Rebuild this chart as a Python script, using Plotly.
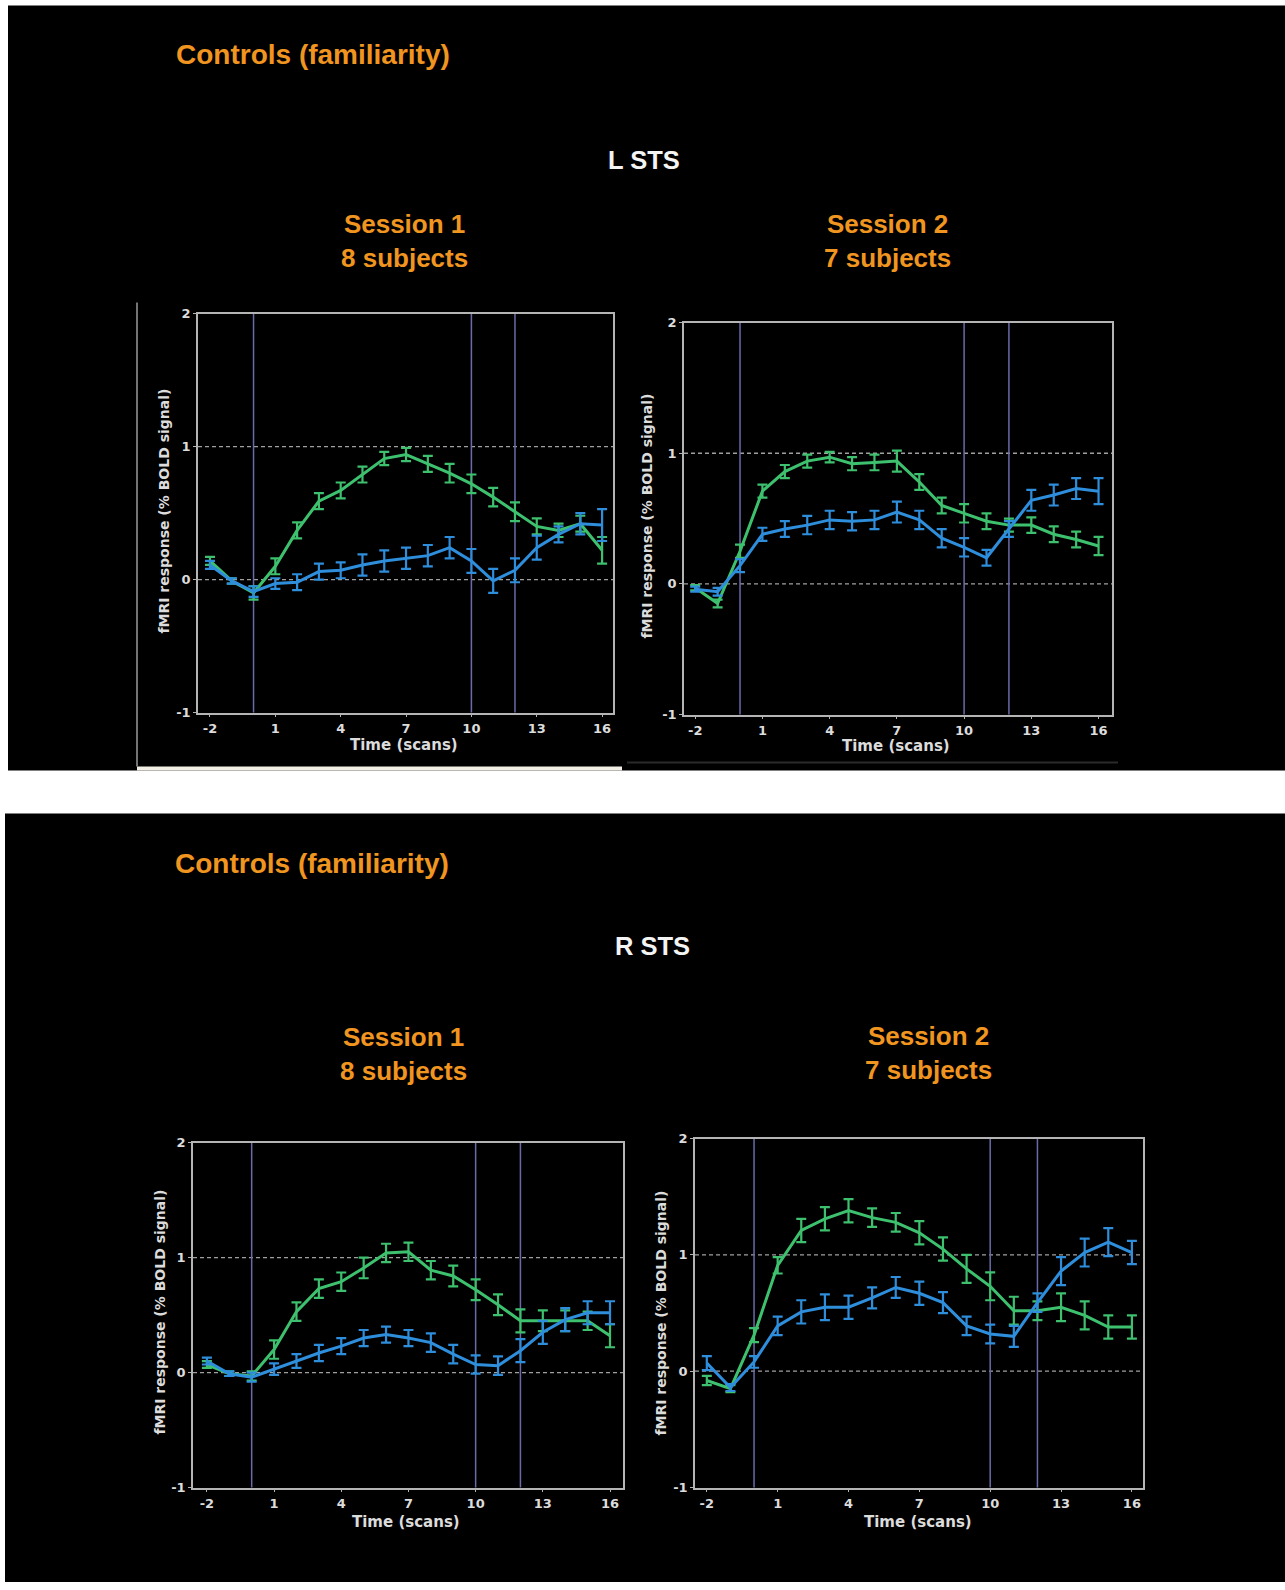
import plotly.graph_objects as go

W, H = 1285, 1590

# ---------------- data ----------------
time = list(range(-2, 17))
tick_vals = [-2, 1, 4, 7, 10, 13, 16]
tick_text = ["-2", "1", "4", "7", "10", "13", "16"]
y_ticks = [-1, 0, 1, 2]
event_lines = [0, 10, 12]

# L STS, Session 1 (8 subjects)
lsts_s1_green = [0.14, -0.01, -0.10, 0.10, 0.37, 0.59, 0.67, 0.79, 0.91, 0.94, 0.87, 0.80, 0.72, 0.62, 0.51, 0.40, 0.37, 0.42, 0.22]
lsts_s1_green_err = [0.03, 0.02, 0.05, 0.06, 0.06, 0.06, 0.06, 0.06, 0.05, 0.05, 0.06, 0.07, 0.07, 0.07, 0.07, 0.06, 0.05, 0.06, 0.10]
lsts_s1_blue = [0.11, -0.01, -0.09, -0.03, -0.02, 0.06, 0.07, 0.11, 0.14, 0.16, 0.18, 0.24, 0.14, -0.01, 0.07, 0.24, 0.34, 0.42, 0.41]
lsts_s1_blue_err = [0.03, 0.02, 0.04, 0.04, 0.06, 0.06, 0.06, 0.08, 0.08, 0.08, 0.08, 0.08, 0.09, 0.09, 0.09, 0.09, 0.06, 0.08, 0.12]

# L STS, Session 2 (7 subjects)
lsts_s2_green = [-0.03, -0.15, 0.25, 0.71, 0.86, 0.94, 0.97, 0.92, 0.93, 0.94, 0.78, 0.60, 0.54, 0.48, 0.45, 0.45, 0.38, 0.34, 0.29]
lsts_s2_green_err = [0.02, 0.03, 0.05, 0.05, 0.05, 0.05, 0.04, 0.05, 0.06, 0.08, 0.06, 0.06, 0.07, 0.06, 0.05, 0.06, 0.06, 0.06, 0.07]
lsts_s2_blue = [-0.04, -0.06, 0.14, 0.38, 0.42, 0.45, 0.49, 0.48, 0.49, 0.55, 0.49, 0.35, 0.28, 0.20, 0.42, 0.64, 0.68, 0.73, 0.71]
lsts_s2_blue_err = [0.02, 0.03, 0.05, 0.05, 0.06, 0.07, 0.07, 0.07, 0.07, 0.08, 0.07, 0.07, 0.07, 0.06, 0.06, 0.08, 0.08, 0.08, 0.10]

# R STS, Session 1 (8 subjects)
rsts_s1_green = [0.07, -0.01, -0.03, 0.20, 0.53, 0.73, 0.79, 0.91, 1.04, 1.05, 0.89, 0.84, 0.72, 0.59, 0.45, 0.45, 0.45, 0.45, 0.32]
rsts_s1_green_err = [0.03, 0.02, 0.04, 0.08, 0.08, 0.08, 0.08, 0.09, 0.08, 0.08, 0.08, 0.09, 0.09, 0.09, 0.10, 0.09, 0.09, 0.08, 0.10]
rsts_s1_blue = [0.10, -0.01, -0.04, 0.03, 0.10, 0.17, 0.23, 0.30, 0.33, 0.30, 0.26, 0.16, 0.07, 0.06, 0.19, 0.35, 0.46, 0.52, 0.52]
rsts_s1_blue_err = [0.03, 0.02, 0.04, 0.05, 0.06, 0.07, 0.07, 0.07, 0.07, 0.07, 0.08, 0.08, 0.08, 0.08, 0.10, 0.10, 0.10, 0.10, 0.10]

# R STS, Session 2 (7 subjects)
rsts_s2_green = [-0.08, -0.15, 0.31, 0.91, 1.21, 1.31, 1.38, 1.32, 1.28, 1.19, 1.05, 0.88, 0.73, 0.52, 0.52, 0.55, 0.48, 0.38, 0.38]
rsts_s2_green_err = [0.04, 0.03, 0.06, 0.07, 0.10, 0.10, 0.10, 0.08, 0.08, 0.10, 0.10, 0.12, 0.12, 0.12, 0.08, 0.12, 0.12, 0.10, 0.10]
rsts_s2_blue = [0.07, -0.14, 0.08, 0.39, 0.51, 0.55, 0.55, 0.63, 0.72, 0.67, 0.59, 0.39, 0.32, 0.30, 0.59, 0.86, 1.02, 1.11, 1.02]
rsts_s2_blue_err = [0.06, 0.03, 0.05, 0.08, 0.10, 0.11, 0.10, 0.09, 0.09, 0.10, 0.09, 0.08, 0.08, 0.09, 0.08, 0.12, 0.12, 0.12, 0.10]

session_titles = ["Session 1<br>8 subjects", "Session 2<br>7 subjects",
                  "Session 1<br>8 subjects", "Session 2<br>7 subjects"]
region_titles = ["L STS", "R STS"]
panel_title = "Controls (familiarity)"
x_title = "Time (scans)"
y_title = "fMRI response (% BOLD signal)"

# ---------------- styling / layout ----------------
GREEN = "#3EC16E"
BLUE = "#2E8EDC"
ORANGE = "#F0951F"
EVENT = "#6A6AAA"
AXIS = "#b4b4b4"
TXT = "#dcdcdc"

# the photographed page comes out slightly squeezed vertically; compensate
Y_OFF, Y_SCALE = 7.4, 0.9906


def fx(px):
    return px / W


def fy(py):
    return 1 - ((py - Y_OFF) / Y_SCALE) / H


# pixel boxes of the four plot areas: (left, right, top, bottom) and x-range
panels = [
    dict(box=(198, 613, 314, 713), xr=[-2.55, 16.5],
         g=lsts_s1_green, ge=lsts_s1_green_err, b=lsts_s1_blue, be=lsts_s1_blue_err,
         title_xy=(404, 241), xt_xy=(404, 745), yt_xy=(164, 512)),
    dict(box=(684, 1112, 323, 715), xr=[-2.5, 16.6],
         g=lsts_s2_green, ge=lsts_s2_green_err, b=lsts_s2_blue, be=lsts_s2_blue_err,
         title_xy=(887, 241), xt_xy=(896, 746), yt_xy=(647, 517)),
    dict(box=(193, 623, 1143, 1488), xr=[-2.62, 16.58],
         g=rsts_s1_green, ge=rsts_s1_green_err, b=rsts_s1_blue, be=rsts_s1_blue_err,
         title_xy=(403, 1054), xt_xy=(406, 1522), yt_xy=(160, 1313)),
    dict(box=(695, 1143, 1139, 1488), xr=[-2.5, 16.47],
         g=rsts_s2_green, ge=rsts_s2_green_err, b=rsts_s2_blue, be=rsts_s2_blue_err,
         title_xy=(928, 1053), xt_xy=(918, 1522), yt_xy=(661, 1313)),
]

fig = go.Figure()
shapes = []
annotations = []

# black backgrounds (two pasted slides)
shapes.append(dict(type="rect", xref="paper", yref="paper", layer="below",
                   x0=fx(8), x1=fx(1285), y0=fy(771), y1=fy(6),
                   fillcolor="black", line=dict(width=0)))
shapes.append(dict(type="rect", xref="paper", yref="paper", layer="below",
                   x0=fx(5), x1=fx(1285), y0=0, y1=fy(814),
                   fillcolor="black", line=dict(width=0)))
# image-edge artefacts of the top slide
shapes.append(dict(type="rect", xref="paper", yref="paper", layer="below",
                   x0=fx(137), x1=fx(622), y0=fy(771), y1=fy(767),
                   fillcolor="#f2f0e6", line=dict(width=0)))
shapes.append(dict(type="line", xref="paper", yref="paper", layer="below",
                   x0=fx(137), x1=fx(137), y0=fy(767), y1=fy(303),
                   line=dict(color="#9a9a9a", width=1.5)))
shapes.append(dict(type="line", xref="paper", yref="paper", layer="below",
                   x0=fx(627), x1=fx(1118), y0=fy(763), y1=fy(763),
                   line=dict(color="#2a2a2a", width=2)))

for i, p in enumerate(panels, start=1):
    l, r, t, b = p["box"]
    xa = "x" if i == 1 else f"x{i}"
    ya = "y" if i == 1 else f"y{i}"
    axis_common = dict(showline=True, mirror=True, linecolor=AXIS, linewidth=1.5,
                       ticks="outside", ticklen=3, tickcolor=AXIS, tickwidth=1.2,
                       showgrid=False, zeroline=False,
                       tickfont=dict(family="DejaVu Sans", size=13, color=TXT, weight="bold"))
    fig.layout[f"xaxis{'' if i == 1 else i}"] = dict(
        domain=[fx(l), fx(r)], range=p["xr"], anchor=ya,
        tickmode="array", tickvals=tick_vals, ticktext=tick_text, **axis_common)
    fig.layout[f"yaxis{'' if i == 1 else i}"] = dict(
        domain=[fy(b), fy(t)], range=[-1, 2], anchor=xa,
        tickmode="array", tickvals=y_ticks, ticktext=[str(v) for v in y_ticks], **axis_common)

    # dashed reference lines at 0 and 1
    for yv in (0, 1):
        shapes.append(dict(type="line", xref=f"{xa} domain", yref=ya, layer="below",
                           x0=0, x1=1, y0=yv, y1=yv,
                           line=dict(color="#a0a0a0", width=1.3, dash="4px,3px")))
    # event lines
    for xv in event_lines:
        shapes.append(dict(type="line", xref=xa, yref=f"{ya} domain", layer="below",
                           x0=xv, x1=xv, y0=0, y1=1,
                           line=dict(color=EVENT, width=1.5)))

    fig.add_trace(go.Scatter(x=time, y=p["g"], mode="lines", xaxis=xa, yaxis=ya,
                             line=dict(color=GREEN, width=3), showlegend=False,
                             error_y=dict(type="data", array=p["ge"], visible=True,
                                          color=GREEN, thickness=2.2, width=5)))
    fig.add_trace(go.Scatter(x=time, y=p["b"], mode="lines", xaxis=xa, yaxis=ya,
                             line=dict(color=BLUE, width=3), showlegend=False,
                             error_y=dict(type="data", array=p["be"], visible=True,
                                          color=BLUE, thickness=2.2, width=5)))

    tx, ty = p["title_xy"]
    annotations.append(dict(text=f"<b>{session_titles[i - 1]}</b>", xref="paper", yref="paper",
                            x=fx(tx), y=fy(ty), xanchor="center", yanchor="middle",
                            showarrow=False, align="center",
                            font=dict(family="Liberation Sans", size=26, color=ORANGE)))
    ax_, ay_ = p["xt_xy"]
    annotations.append(dict(text=f"<b>{x_title}</b>", xref="paper", yref="paper",
                            x=fx(ax_), y=fy(ay_), xanchor="center", yanchor="middle",
                            showarrow=False,
                            font=dict(family="DejaVu Sans", size=15, color=TXT)))
    yx_, yy_ = p["yt_xy"]
    annotations.append(dict(text=f"<b>{y_title}</b>", xref="paper", yref="paper",
                            x=fx(yx_), y=fy(yy_), xanchor="center", yanchor="middle",
                            showarrow=False, textangle=-90,
                            font=dict(family="DejaVu Sans", size=14, color=TXT)))

# slide titles
for (px_, py_) in [(174, 55), (173, 864)]:
    annotations.append(dict(text=f"<b>{panel_title}</b>", xref="paper", yref="paper",
                            x=fx(px_), y=fy(py_), xanchor="left", yanchor="middle",
                            showarrow=False,
                            font=dict(family="Liberation Sans", size=28, color=ORANGE)))
for txt, (px_, py_) in zip(region_titles, [(644, 160), (652, 946)]):
    annotations.append(dict(text=f"<b>{txt}</b>", xref="paper", yref="paper",
                            x=fx(px_), y=fy(py_), xanchor="center", yanchor="middle",
                            showarrow=False,
                            font=dict(family="Liberation Sans", size=25.5, color="#f4f4f4")))

fig.update_layout(width=W, height=H, margin=dict(l=0, r=0, t=0, b=0),
                  paper_bgcolor="white", plot_bgcolor="black",
                  shapes=shapes, annotations=annotations)

page_fix = (
    "document.documentElement.style.margin='0';"
    "document.documentElement.style.padding='0';"
    "document.documentElement.style.overflow='hidden';"
    "document.body.style.margin='0';"
    "document.body.style.padding='0';"
    "document.body.style.overflow='hidden';"
    "var gd=document.getElementsByClassName('plotly-graph-div')[0];"
    "gd.style.position='absolute';gd.style.left='0px';gd.style.top='0px';"
)

fig.write_html("out.html", config={"displayModeBar": False}, post_script=page_fix)
